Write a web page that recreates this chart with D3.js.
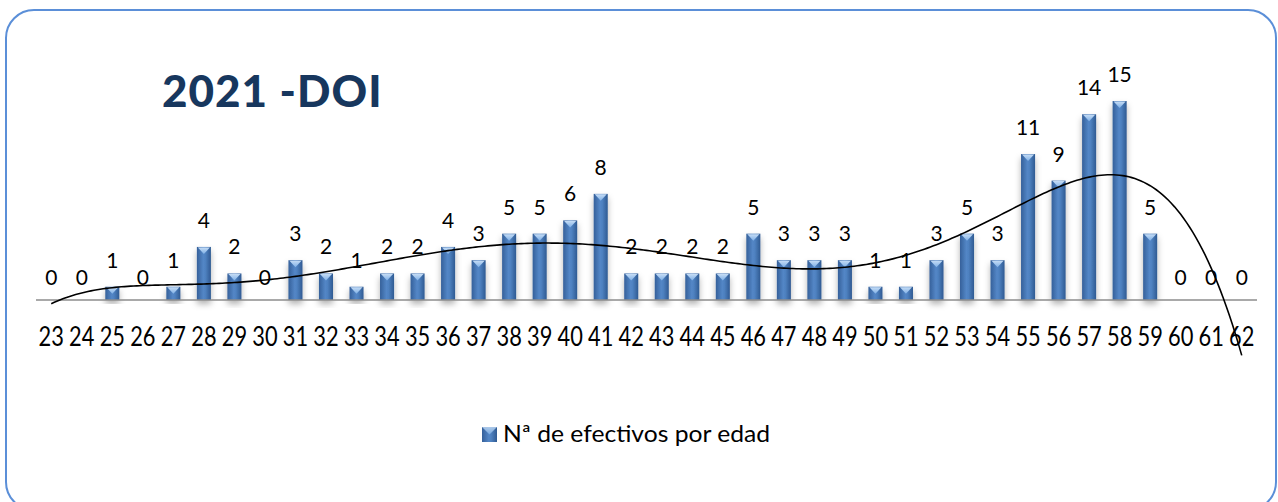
<!DOCTYPE html>
<html>
<head>
<meta charset="utf-8">
<script src="https://cdn.jsdelivr.net/npm/d3@7"></script>
<style>
  html, body { margin: 0; padding: 0; background: #fff; }
  svg { display: block; }
  text { font-family: Lato, "Open Sans", sans-serif; }
</style>
</head>
<body>
<svg id="chart" width="1278" height="502"></svg>
<script>
// ---- data ----
const ages = ["23","24","25","26","27","28","29","30","31","32","33","34","35","36","37","38","39","40","41","42","43","44","45","46","47","48","49","50","51","52","53","54","55","56","57","58","59","60","61","62"];
const counts = [0,0,1,0,1,4,2,0,3,2,1,2,2,4,3,5,5,6,8,2,2,2,2,5,3,3,3,1,1,3,5,3,11,9,14,15,5,0,0,0];
const titleText = "2021 -DOI";
const seriesName = "Nª de efectivos por edad";
const trendOrder = 6;

// ---- layout ----
const svg = d3.select("#chart");
const plot = { left: 36, right: 1257, base: 300, top: 101 };

const defs = svg.append("defs");
const barGrad = defs.append("linearGradient").attr("id", "barGrad").attr("x1", "0").attr("x2", "1").attr("y1", "0").attr("y2", "0");
barGrad.append("stop").attr("offset", "0%").attr("stop-color", "#35609a");
barGrad.append("stop").attr("offset", "45%").attr("stop-color", "#5386c6");
barGrad.append("stop").attr("offset", "60%").attr("stop-color", "#4f82c1");
barGrad.append("stop").attr("offset", "100%").attr("stop-color", "#2f5a92");
const triGrad = defs.append("linearGradient").attr("id", "triGrad").attr("x1", "0").attr("x2", "0").attr("y1", "0").attr("y2", "1");
triGrad.append("stop").attr("offset", "0%").attr("stop-color", "#c5dcf5");
triGrad.append("stop").attr("offset", "100%").attr("stop-color", "#7fb0e6");
const shadow = defs.append("filter").attr("id", "shadow").attr("x", "-50%").attr("y", "-20%").attr("width", "200%").attr("height", "150%");
shadow.append("feDropShadow").attr("dx", 0).attr("dy", 4).attr("stdDeviation", 3).attr("flood-color", "#000").attr("flood-opacity", 0.3);

// border
svg.append("rect")
  .attr("x", 6).attr("y", 10).attr("width", 1270).attr("height", 500)
  .attr("rx", 28).attr("ry", 28)
  .attr("fill", "#fff").attr("stroke", "#5b8fd8").attr("stroke-width", 2);

// scales
const x = d3.scaleBand().domain(ages).range([plot.left, plot.right]).padding(0);
const y = d3.scaleLinear().domain([0, d3.max(counts)]).range([plot.base, plot.top]);
const bw = x.bandwidth() * 0.46;

// bars
const g = svg.append("g");
const bars = g.selectAll("g.bar").data(ages.map((a, i) => ({ a, v: counts[i] })).filter(d => d.v > 0))
  .enter().append("g").attr("class", "bar");
bars.append("rect")
  .attr("x", d => x(d.a) + x.bandwidth() / 2 - bw / 2)
  .attr("y", d => y(d.v))
  .attr("width", bw)
  .attr("height", d => y(0) - y(d.v))
  .attr("fill", "url(#barGrad)")
  .attr("filter", "url(#shadow)");
bars.append("path")
  .attr("d", d => {
    const cx = x(d.a) + x.bandwidth() / 2, t = y(d.v);
    return `M${cx - bw / 2 + 1},${t + 0.5} L${cx + bw / 2 - 1},${t + 0.5} L${cx},${t + 7} Z`;
  })
  .attr("fill", "url(#triGrad)");

// axis line
svg.append("line")
  .attr("x1", plot.left).attr("x2", plot.right)
  .attr("y1", y(0)).attr("y2", y(0))
  .attr("stroke", "#8c8c8c").attr("stroke-width", 1.5);

// x axis labels
const xAxis = d3.axisBottom(x).tickSize(0).tickPadding(0);
const axG = svg.append("g").attr("transform", `translate(0,${y(0)})`).call(xAxis);
axG.select(".domain").remove();
axG.selectAll("text")
  .attr("y", 0).attr("dy", null)
  .attr("transform", "translate(0,46) scale(0.84,1)")
  .style("font-size", "26px").style("font-family", "Lato, sans-serif")
  .attr("fill", "#000");

// data labels
svg.append("g").selectAll("text").data(ages.map((a, i) => ({ a, v: counts[i] })))
  .enter().append("text")
  .attr("x", d => x(d.a) + x.bandwidth() / 2)
  .attr("y", d => y(d.v) - (d.v === 0 ? 15 : 19))
  .attr("text-anchor", "middle")
  .style("font-size", "21px")
  .attr("fill", "#000")
  .text(d => d.v);

// polynomial trendline (least squares, x = 1..n as in Excel)
function polyFit(xs, ys, order) {
  const n = order + 1;
  const c = 20.5, s = 19.5;
  const A = Array.from({ length: n }, () => new Array(n + 1).fill(0));
  xs.forEach((xv, k) => {
    const t = (xv - c) / s;
    const pw = [];
    for (let i = 0; i < 2 * n; i++) pw.push(Math.pow(t, i));
    for (let i = 0; i < n; i++) {
      for (let j = 0; j < n; j++) A[i][j] += pw[i + j];
      A[i][n] += ys[k] * pw[i];
    }
  });
  for (let col = 0; col < n; col++) {
    let piv = col;
    for (let r = col + 1; r < n; r++) if (Math.abs(A[r][col]) > Math.abs(A[piv][col])) piv = r;
    [A[col], A[piv]] = [A[piv], A[col]];
    for (let r = 0; r < n; r++) {
      if (r === col) continue;
      const f = A[r][col] / A[col][col];
      for (let j = col; j <= n; j++) A[r][j] -= f * A[col][j];
    }
  }
  const coef = A.map((row, i) => row[n] / row[i]);
  return xv => { const t = (xv - c) / s; return coef.reduce((acc, b, i) => acc + b * Math.pow(t, i), 0); };
}
const idx = counts.map((_, i) => i + 1);
const f = polyFit(idx, counts, trendOrder);
const pts = d3.range(1, counts.length + 0.001, 0.1).map(xi => [xi, f(xi)]);
const xPos = d3.scaleLinear().domain([1, counts.length])
  .range([x(ages[0]) + x.bandwidth() / 2, x(ages[ages.length - 1]) + x.bandwidth() / 2]);
svg.append("path")
  .datum(pts)
  .attr("d", d3.line().x(d => xPos(d[0])).y(d => y(d[1])))
  .attr("fill", "none").attr("stroke", "#000").attr("stroke-width", 1.6);

// title
svg.append("text")
  .attr("x", 162).attr("y", 107)
  .style("font-size", "44px").style("font-weight", "900")
  .style("letter-spacing", "1px")
  .attr("fill", "#17375e")
  .text(titleText);

// legend
const lg = svg.append("g").attr("transform", "translate(482,427)");
lg.append("rect").attr("width", 15).attr("height", 15).attr("fill", "url(#barGrad)");
lg.append("path").attr("d", "M0,0 L15,0 L7.5,7.5 Z").attr("fill", "url(#triGrad)").attr("opacity", 0.8);
lg.append("text").attr("x", 21).attr("y", 15)
  .style("font-size", "23px").attr("fill", "#000")
  .attr("textLength", 267).attr("lengthAdjust", "spacingAndGlyphs")
  .text(seriesName);
</script>
</body>
</html>
